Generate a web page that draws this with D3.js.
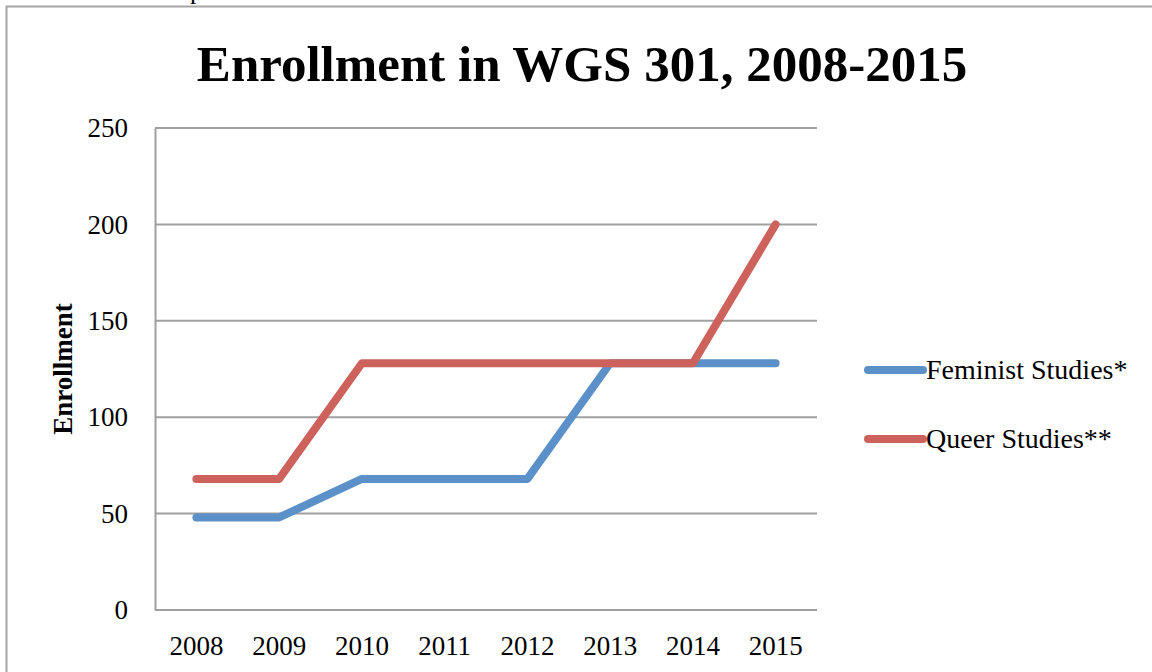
<!DOCTYPE html>
<html>
<head>
<meta charset="utf-8">
<script src="https://cdn.jsdelivr.net/npm/d3@7"></script>
<style>
  body { margin: 0; background: #fff; }
  svg { display: block; }
</style>
</head>
<body>
<svg id="chart" width="1152" height="672"></svg>
<script>
// chart data
const years = ['2008', '2009', '2010', '2011', '2012', '2013', '2014', '2015'];
const feministStudies = [48, 48, 68, 68, 68, 128, 128, 128];
const queerStudies = [68, 68, 128, 128, 128, 128, 128, 200];
const yTicks = [0, 50, 100, 150, 200, 250];
const seriesNames = ['Feminist Studies*', 'Queer Studies**'];

const serif = '"Liberation Serif", "DejaVu Serif", serif';
const colors = ['#5b91c8', '#cc625b'];

const svg = d3.select('#chart');

// page frame (chart box cut by the window)
svg.append('path')
    .attr('d', 'M6.5,672 V6.5 H1152')
    .attr('fill', 'none')
    .attr('stroke', '#a6a6a6')
    .attr('stroke-width', 2);

// descender of text above the chart
svg.append('text')
    .attr('x', 190)
    .attr('y', -1)
    .attr('font-family', serif)
    .attr('font-size', 26)
    .text('p');

const margin = { top: 128, left: 155, right: 817, bottom: 610 };

const x = d3.scaleBand()
    .domain(years)
    .range([margin.left, margin.right]);

const y = d3.scaleLinear()
    .domain([0, 250])
    .range([margin.bottom, margin.top]);

// gridlines
svg.append('g')
    .selectAll('line')
    .data(yTicks)
    .join('line')
    .attr('x1', margin.left)
    .attr('x2', margin.right)
    .attr('y1', d => y(d))
    .attr('y2', d => y(d))
    .attr('stroke', '#a0a0a0')
    .attr('stroke-width', 2);

// y axis
const yAxis = svg.append('g')
    .attr('transform', 'translate(' + margin.left + ',0)')
    .call(d3.axisLeft(y).tickValues(yTicks).tickSize(0).tickPadding(27));
yAxis.select('.domain').attr('stroke', '#a0a0a0').attr('stroke-width', 2);
yAxis.selectAll('text')
    .attr('font-family', serif)
    .attr('font-size', 27)
    .attr('fill', '#000');

// x axis
const xAxis = svg.append('g')
    .attr('transform', 'translate(0,' + margin.bottom + ')')
    .call(d3.axisBottom(x).tickSize(0).tickPadding(26));
xAxis.select('.domain').remove();
xAxis.selectAll('text')
    .attr('font-family', serif)
    .attr('font-size', 27)
    .attr('fill', '#000');

// lines
const line = d3.line()
    .x((d, i) => x(years[i]) + x.bandwidth() / 2)
    .y(d => y(d));

[feministStudies, queerStudies].forEach((values, i) => {
    svg.append('path')
        .datum(values)
        .attr('fill', 'none')
        .attr('stroke', colors[i])
        .attr('stroke-width', 8)
        .attr('stroke-linecap', 'round')
        .attr('stroke-linejoin', 'round')
        .attr('d', line);
});

// title
svg.append('text')
    .attr('x', 582)
    .attr('y', 81)
    .attr('text-anchor', 'middle')
    .attr('font-family', serif)
    .attr('font-weight', 'bold')
    .attr('font-size', 51)
    .text('Enrollment in WGS 301, 2008-2015');

// y axis title
svg.append('text')
    .attr('transform', 'translate(72,369) rotate(-90)')
    .attr('text-anchor', 'middle')
    .attr('font-family', serif)
    .attr('font-weight', 'bold')
    .attr('font-size', 27)
    .text('Enrollment');

// legend
const legend = svg.append('g')
    .selectAll('g')
    .data(seriesNames)
    .join('g')
    .attr('transform', (d, i) => 'translate(868,' + (370 + i * 69) + ')');

legend.append('line')
    .attr('x1', 0)
    .attr('x2', 55)
    .attr('stroke', (d, i) => colors[i])
    .attr('stroke-width', 8)
    .attr('stroke-linecap', 'round');

legend.append('text')
    .attr('x', 58)
    .attr('y', 9)
    .attr('font-family', serif)
    .attr('font-size', 28)
    .text(d => d);
</script>
</body>
</html>
